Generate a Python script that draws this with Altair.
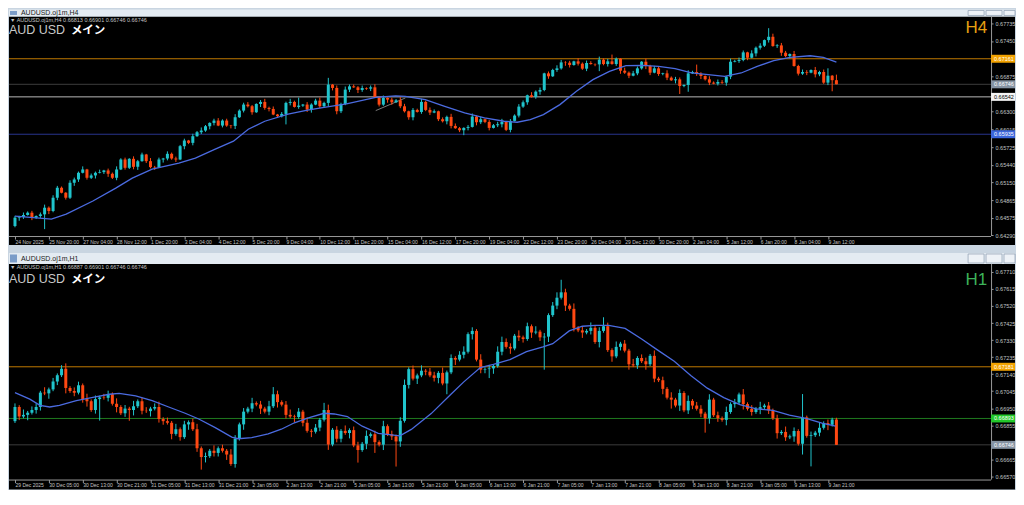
import json
import altair as alt
import pandas as pd

# ---------------- data ----------------
# H4 panel (top)
H4_FIRST_OPEN = 0.64444
H4_CLOSE = [
    0.64580, 0.64590, 0.64623, 0.64661, 0.64580, 0.64607, 0.64634, 0.64742, 0.64688, 0.64904,
    0.65066, 0.64985, 0.64904, 0.65147, 0.65201, 0.65309, 0.65363, 0.65228, 0.65266, 0.65309,
    0.65320, 0.65347, 0.65293, 0.65228, 0.65363, 0.65525, 0.65390, 0.65536, 0.65406, 0.65498,
    0.65606, 0.65498, 0.65401, 0.65395, 0.65525, 0.65541, 0.65617, 0.65541, 0.65525, 0.65741,
    0.65833, 0.65795, 0.65903, 0.65968, 0.65995, 0.66065, 0.66119, 0.66157, 0.66076, 0.66157,
    0.66076, 0.66070, 0.66211, 0.66319, 0.66417, 0.66390, 0.66292, 0.66427, 0.66460, 0.66363,
    0.66346, 0.66255, 0.66228, 0.66265, 0.66444, 0.66460, 0.66379, 0.66400, 0.66417, 0.66336,
    0.66417, 0.66481, 0.66390, 0.66444, 0.66741, 0.66687, 0.66309, 0.66427, 0.66660, 0.66713,
    0.66697, 0.66654, 0.66686, 0.66676, 0.66697, 0.66535, 0.66416, 0.66524, 0.66497, 0.66454,
    0.66486, 0.66389, 0.66308, 0.66211, 0.66330, 0.66297, 0.66460, 0.66330, 0.66287, 0.66308,
    0.66179, 0.66146, 0.66217, 0.66070, 0.66033, 0.66000, 0.66038, 0.66054, 0.66222, 0.66130,
    0.66179, 0.66135, 0.66038, 0.66081, 0.66097, 0.66135, 0.66006, 0.66152, 0.66238, 0.66384,
    0.66454, 0.66568, 0.66541, 0.66627, 0.66654, 0.66924, 0.66876, 0.66978, 0.67005, 0.67102,
    0.67097, 0.67059, 0.67119, 0.67081, 0.67000, 0.67092, 0.67075, 0.67070, 0.67146, 0.67075,
    0.67119, 0.67075, 0.67162, 0.66967, 0.66935, 0.66886, 0.66924, 0.67005, 0.67113, 0.67043,
    0.66935, 0.67005, 0.66913, 0.66924, 0.66854, 0.66811, 0.66827, 0.66719, 0.66735, 0.66924,
    0.66946, 0.66913, 0.66881, 0.66827, 0.66773, 0.66757, 0.66784, 0.66773, 0.66870, 0.67113,
    0.67124, 0.67140, 0.67265, 0.67178, 0.67248, 0.67340, 0.67373, 0.67464, 0.67518, 0.67367,
    0.67378, 0.67259, 0.67205, 0.67238, 0.67043, 0.66919, 0.66946, 0.66935, 0.66978, 0.66908,
    0.66946, 0.66773, 0.66886, 0.66813, 0.66746,
]
# wick lengths in pips (one digit per bar) plus the long ones
H4_UPPER_WICK = ("32423135243214325132" "41325231423152314232" "31425213423152342135"
                 "24132523142352314253" "32413524132541325243" "13254213524132451324"
                 "31524132542315243152" "43215243152431524315" "24315243152431524135"
                 "243152431524315")
H4_LOWER_WICK = ("25314231524132541325" "13524132451324153241" "52413254132451324153"
                 "41325413245132541324" "15324132541324513241" "32541324153241352413"
                 "24135241325413241352" "41352413254132415324" "13524132541324153241"
                 "352413241532413")
H4_LONG_UPPER = {67: 13, 74: 11, 141: 11, 161: 12, 178: 14, 192: 12, 194: 9}
H4_LONG_LOWER = {7: 24, 64: 17, 76: 5, 106: 8, 138: 11, 157: 13, 159: 11, 193: 18, 194: 0}
H4_MA_IDX = [0, 8.6, 12.1, 18.4, 23.8, 27.7, 32.4, 38.7, 42.6, 47.3,
             51.6, 55.1, 59, 64.5, 69.1, 73, 78.3, 85.2, 89.9, 92.2,
             96.9, 101.5, 106.2, 110.9, 115.5, 118.6, 121.7, 124.8, 128.7, 132.6,
             136.5, 140.4, 144.3, 148.2, 152, 155.9, 159.8, 163.7, 167.6, 171.5,
             175.3, 179.2, 183.1, 187.8, 190.9, 194]
H4_MA_VAL = [0.64606, 0.64558, 0.64639, 0.64850, 0.65060, 0.65222, 0.65368, 0.65466, 0.65547, 0.65693,
             0.65822, 0.66017, 0.66146, 0.66260, 0.66325, 0.66373, 0.66430, 0.66535, 0.66557, 0.66551,
             0.66497, 0.66389, 0.66281, 0.66200, 0.66146, 0.66130, 0.66173, 0.66254, 0.66416, 0.66632,
             0.66822, 0.66957, 0.67048, 0.67054, 0.67038, 0.67000, 0.66930, 0.66903, 0.66876, 0.66930,
             0.67038, 0.67129, 0.67183, 0.67210, 0.67183, 0.67108]
H4_TREND_IDX = [85.2, 92.2]
H4_TREND_PRICE = [0.66319, 0.66524]
H4_LEVELS = [0.67161, 0.66746, 0.66542, 0.65935]
H4_PRICE_TICKS = [0.67735, 0.67450, 0.66875, 0.66300, 0.66015, 0.65725, 0.65440,
                  0.65150, 0.64865, 0.64575, 0.64290]
H4_TIME_LABELS = ["24 Nov 2025", "25 Nov 20:00", "27 Nov 04:00", "28 Nov 12:00", "1 Dec 20:00",
                  "3 Dec 04:00", "4 Dec 12:00", "5 Dec 20:00", "9 Dec 04:00", "10 Dec 12:00",
                  "11 Dec 20:00", "15 Dec 04:00", "16 Dec 12:00", "17 Dec 20:00", "19 Dec 04:00",
                  "22 Dec 12:00", "23 Dec 20:00", "26 Dec 04:00", "29 Dec 12:00", "30 Dec 20:00",
                  "2 Jan 04:00", "5 Jan 12:00", "6 Jan 20:00", "8 Jan 04:00", "9 Jan 12:00"]

# H1 panel (bottom)
H1_FIRST_OPEN = 0.66878
H1_CLOSE = [
    0.66957, 0.66904, 0.66913, 0.66925, 0.66940, 0.66957, 0.67037, 0.67033, 0.67055, 0.67099,
    0.67134, 0.67170, 0.67063, 0.67046, 0.67037, 0.67078, 0.67001, 0.66989, 0.66940, 0.67001,
    0.67010, 0.67008, 0.67028, 0.66975, 0.66957, 0.66922, 0.66948, 0.66940, 0.66961, 0.66989,
    0.66936, 0.66934, 0.66948, 0.66957, 0.66890, 0.66878, 0.66869, 0.66807, 0.66833, 0.66789,
    0.66860, 0.66872, 0.66833, 0.66727, 0.66678, 0.66683, 0.66713, 0.66701, 0.66727, 0.66713,
    0.66692, 0.66639, 0.66780, 0.66860, 0.66931, 0.66948, 0.66978, 0.66971, 0.66948, 0.66931,
    0.66961, 0.67028, 0.66984, 0.66970, 0.66913, 0.66904, 0.66901, 0.66931, 0.66869, 0.66824,
    0.66819, 0.66842, 0.66886, 0.66940, 0.66748, 0.66830, 0.66780, 0.66824, 0.66812,
    0.66828, 0.66743, 0.66717, 0.66752, 0.66796, 0.66805, 0.66761, 0.66747, 0.66850, 0.66805, 0.66793,
    0.66765, 0.66880, 0.67080, 0.67168, 0.67115, 0.67133, 0.67159, 0.67154, 0.67133, 0.67119,
    0.67147, 0.67088, 0.67150, 0.67230, 0.67221, 0.67248, 0.67265, 0.67363, 0.67381, 0.67221,
    0.67165, 0.67168, 0.67172, 0.67186, 0.67265, 0.67319, 0.67292, 0.67283, 0.67354, 0.67345,
    0.67336, 0.67407, 0.67372, 0.67377, 0.67345, 0.67349, 0.67469, 0.67522, 0.67566, 0.67596,
    0.67522, 0.67504, 0.67398, 0.67384, 0.67372, 0.67381, 0.67398, 0.67319, 0.67381, 0.67407,
    0.67274, 0.67239, 0.67292, 0.67310, 0.67271, 0.67195, 0.67189, 0.67230, 0.67212, 0.67195,
    0.67242, 0.67115, 0.67106, 0.67058, 0.67009, 0.66998, 0.66965, 0.67035, 0.66938, 0.66991,
    0.66965, 0.66947, 0.66920, 0.66894, 0.66998, 0.66911, 0.66894, 0.66885, 0.66929, 0.66973,
    0.66982, 0.67027, 0.66973, 0.66947, 0.66929, 0.66947, 0.66956, 0.66965, 0.66938, 0.66894,
    0.66811, 0.66818, 0.66788, 0.66793, 0.66823, 0.66752, 0.66899, 0.66796, 0.66800, 0.66814,
    0.66841, 0.66867, 0.66858, 0.66887, 0.66746,
]
H1_UPPER_WICK = ("21312213121231221312" "12213121312212312131" "21231213121321213121"
                 "31212312131212312131" "22131213121231213122" "13121231213121312213"
                 "12131212312131213121" "21312131221312131213" "12213121312131213121"
                 "213121312131213")
H1_LOWER_WICK = ("12131221312131212312" "21213121312131221312" "13121312213121312131"
                 "21312131213121312213" "12131213121312131212" "31213121312213121312"
                 "21312131213121312131" "13121312131213121312" "21213121312131213121"
                 "312131213121312")
H1_LONG_UPPER = {61: 4, 73: 4, 115: 3, 129: 7, 139: 5, 186: 13, 194: 1}
H1_LONG_LOWER = {20: 12, 27: 6, 44: 7, 81: 7, 85: 6, 90: 14, 102: 6, 112: 5, 125: 18,
                 155: 5, 163: 8, 186: 6, 188: 17, 194: 0}
H1_MA_IDX = [0, 3.5, 5.9, 8.2, 10.5, 14.5, 18.4, 22.3, 24.6, 28.5,
             32.4, 36.3, 40.2, 43.4, 47.3, 51.2, 52.7, 55.9, 59.8, 62.9,
             66, 69.1, 73, 75.4, 78.5, 82, 85.8, 90.9, 93.6, 98.3,
             102.9, 106, 109.9, 113, 116.9, 120.8, 124.7, 127, 130.9, 134,
             137.1, 140.2, 144.1, 148, 151.8, 155.7, 159.6, 163.5, 167.4, 171.2,
             175.1, 179, 182.9, 186.8, 190.6, 193.8]
H1_MA_VAL = [0.67037, 0.67001, 0.66966, 0.66957, 0.66966, 0.66993, 0.67010, 0.67028, 0.67033, 0.67019,
             0.66993, 0.66957, 0.66922, 0.66890, 0.66842, 0.66789, 0.66780, 0.66786, 0.66807, 0.66833,
             0.66869, 0.66895, 0.66922, 0.66918, 0.66904, 0.66850, 0.66810, 0.66796, 0.66832, 0.66920,
             0.67027, 0.67097, 0.67177, 0.67195, 0.67221, 0.67265, 0.67292, 0.67310, 0.67381, 0.67407,
             0.67412, 0.67412, 0.67395, 0.67336, 0.67274, 0.67212, 0.67133, 0.67062, 0.67009, 0.66970,
             0.66947, 0.66938, 0.66911, 0.66894, 0.66867, 0.66850]
H1_LEVELS = [0.67181, 0.66893, 0.66746]
H1_PRICE_TICKS = [0.67710, 0.67615, 0.67520, 0.67425, 0.67330, 0.67235, 0.67140,
                  0.67045, 0.66950, 0.66855, 0.66760, 0.66665, 0.66570]
H1_TIME_LABELS = ["29 Dec 2025", "30 Dec 05:00", "30 Dec 13:00", "30 Dec 21:00", "31 Dec 05:00",
                  "31 Dec 13:00", "31 Dec 21:00", "2 Jan 05:00", "2 Jan 13:00", "2 Jan 21:00",
                  "5 Jan 05:00", "5 Jan 13:00", "5 Jan 21:00", "6 Jan 05:00", "6 Jan 13:00",
                  "6 Jan 21:00", "7 Jan 05:00", "7 Jan 13:00", "7 Jan 21:00", "8 Jan 05:00",
                  "8 Jan 13:00", "8 Jan 21:00", "9 Jan 05:00", "9 Jan 13:00", "9 Jan 21:00"]

# ---------------- styling ----------------
FONT = "Liberation Sans"
JP_FONT = "Noto Sans CJK JP"
UP = "#20c4cc"
DOWN = "#ff4812"
MA_COLOR = "#4b6be0"
AXIS_COLOR = "#9a9a9a"
LABEL_COLOR = "#c4c4c4"
GAP_COLOR = "#c9d5e1"
BAR_COLOR = "#e4ebf2"
W = 1008
PLOT_R = 984
X_DOMAIN = [-0.2334, 235.0]

ONE = pd.DataFrame({"k": [0]})


def candles(first_open, closes, uw, lw, long_u, long_l):
    rows = []
    prev = first_open
    for i, c in enumerate(closes):
        o = prev
        u = long_u.get(i, int(uw[i]))
        d = long_l.get(i, int(lw[i]))
        rows.append(dict(i=i, o=o, c=c,
                         h=max(o, c) + u * 0.0001,
                         l=min(o, c) - d * 0.0001,
                         col=UP if c >= o else DOWN))
        prev = c
    return pd.DataFrame(rows)


def rect(x, x2, y, y2, color, stroke=None):
    kw = dict(color=color)
    if stroke:
        kw.update(stroke=stroke, strokeWidth=0.7)
    return alt.Chart(ONE).mark_rect(**kw).encode(
        x=alt.value(x), x2=alt.value(x2), y=alt.value(y), y2=alt.value(y2))


def text(t, x, y, size, color, align="left", weight="normal", font=FONT):
    return alt.Chart(pd.DataFrame({"t": [t]})).mark_text(
        align=align, baseline="alphabetic", fontSize=size, color=color,
        fontWeight=weight, font=font).encode(x=alt.value(x), y=alt.value(y), text="t:N")


def panel(df, ma_idx, ma_val, levels, line_cols, box_cols, txt_cols, ydom, height, axis_y,
          price_ticks, time_labels, tf, tf_color, tf_base, aud_base, header, win_title, tb_h,
          trend=None):
    X = alt.Scale(domain=X_DOMAIN, nice=False, zero=False)
    Y = alt.Scale(domain=ydom, nice=False, zero=False)
    xaxis = alt.Axis(values=list(range(0, 193, 8)),
                     labelExpr="' ' + " + json.dumps(time_labels) + "[round(datum.value / 8)]",
                     orient="bottom", offset=axis_y - height, title=None, domain=False, grid=False,
                     tickSize=3, tickColor=AXIS_COLOR, labelAlign="left", labelBaseline="top",
                     labelPadding=0, labelFontSize=5, labelColor=LABEL_COLOR,
                     labelFont=FONT, labelOverlap=False, labelFlush=False, labelBound=False, zindex=0)
    yaxis = alt.Axis(values=price_ticks, format=".5f", orient="right", offset=PLOT_R - W,
                     title=None, domain=False, grid=False, tickSize=2, tickColor=AXIS_COLOR,
                     labelPadding=2, labelFontSize=5.5, labelColor=LABEL_COLOR, labelFont=FONT,
                     labelBaseline="middle", labelOverlap=False, labelFlush=False,
                     labelBound=False, zindex=0)

    def XF(f):
        return alt.X(f, type="quantitative", scale=X, axis=xaxis)

    def YF(f):
        return alt.Y(f, type="quantitative", scale=Y, axis=yaxis)

    lv = pd.DataFrame({"p": levels, "lc": line_cols, "bc": box_cols, "tc": txt_cols,
                       "t": [f"{v:.5f}" for v in levels]})
    ma = pd.DataFrame({"i": ma_idx, "v": ma_val})

    layers = []
    layers.append(rect(0, W, -tb_h, 0, BAR_COLOR))
    layers.append(rect(1, 8, -tb_h + 1.5, -1.5, "#7b9cc8"))
    layers.append(text(win_title, 12, -1.6 if tb_h < 9 else -3, 7, "#222222"))
    for bx, bx2 in [(961, 977), (979, 995), (997, 1008)]:
        layers.append(rect(bx, bx2, -tb_h + 1, -1, "#eef2f7", "#8c9bb0"))

    layers.append(alt.Chart(lv).mark_rule(strokeWidth=1).encode(
        y=YF("p"), x=alt.value(0), x2=alt.value(PLOT_R), color=alt.Color("lc:N", scale=None)))
    if trend is not None:
        tr = pd.DataFrame({"i": trend[0], "v": trend[1]})
        layers.append(alt.Chart(tr).mark_line(color="#7a7a7a", strokeWidth=1).encode(
            x=XF("i"), y=YF("v")))
    layers.append(alt.Chart(df).mark_rule(strokeWidth=1).encode(
        x=XF("i"), y=YF("l"), y2="h:Q", color=alt.Color("col:N", scale=None)))
    layers.append(alt.Chart(df).mark_bar(size=3).encode(
        x=XF("i"), y=YF("o"), y2="c:Q", color=alt.Color("col:N", scale=None)))
    layers.append(alt.Chart(ma).mark_line(color=MA_COLOR, strokeWidth=1.3).encode(
        x=XF("i"), y=YF("v")))
    layers.append(alt.Chart(ONE).mark_rule(color=AXIS_COLOR, strokeWidth=1).encode(
        x=alt.value(PLOT_R + 0.5), y=alt.value(0), y2=alt.value(axis_y)))
    layers.append(alt.Chart(ONE).mark_rule(color=AXIS_COLOR, strokeWidth=1).encode(
        x=alt.value(0), x2=alt.value(PLOT_R), y=alt.value(axis_y + 0.5)))
    layers.append(alt.Chart(lv).mark_tick(orient="horizontal", thickness=8, size=24, opacity=1).encode(
        y=YF("p"), x=alt.value(PLOT_R + 12), color=alt.Color("bc:N", scale=None)))
    layers.append(alt.Chart(lv).mark_text(align="left", baseline="middle", fontSize=5.5, font=FONT).encode(
        y=YF("p"), x=alt.value(PLOT_R + 3), text="t:N", color=alt.Color("tc:N", scale=None)))

    layers.append(text(header, 1, 5.5, 5.5, LABEL_COLOR))
    layers.append(text("AUD USD", 0, aud_base, 12.5, "#c8c8c8"))
    layers.append(text("メイン", 62, aud_base, 11.5, "#ffffff", weight="bold", font=JP_FONT))
    layers.append(text(tf, 980, tf_base, 17, tf_color, align="right"))

    return alt.layer(*layers).properties(width=W, height=height)


h4 = candles(H4_FIRST_OPEN, H4_CLOSE, H4_UPPER_WICK, H4_LOWER_WICK, H4_LONG_UPPER, H4_LONG_LOWER)
h1 = candles(H1_FIRST_OPEN, H1_CLOSE, H1_UPPER_WICK, H1_LOWER_WICK, H1_LONG_UPPER, H1_LONG_LOWER)

top = panel(h4, H4_MA_IDX, H4_MA_VAL, H4_LEVELS,
            ["#c07800", "#3c3c3c", "#b8b8b8", "#28348e"],
            ["#f2a200", "#8593a3", "#f4f4f4", "#3b66dc"],
            ["#ffffff", "#ffffff", "#000000", "#ffffff"],
            [0.64136, 0.67848], 229, 220, H4_PRICE_TICKS, H4_TIME_LABELS,
            "H4", "#e8a012", 17, 18,
            "▼ AUDUSD.oj1m,H4  0.66813 0.66901 0.66746 0.66746", "AUDUSD.oj1m,H4", 7,
            trend=(H4_TREND_IDX, H4_TREND_PRICE))

bottom = panel(h1, H1_MA_IDX, H1_MA_VAL, H1_LEVELS,
               ["#c07800", "#1f7a1f", "#3c3c3c"],
               ["#f2a200", "#22c82a", "#8593a3"],
               ["#ffffff", "#ffffff", "#ffffff"],
               [0.66497, 0.67754], 226, 216, H1_PRICE_TICKS, H1_TIME_LABELS,
               "H1", "#3db35a", 21, 19,
               "▼ AUDUSD.oj1m,H1  0.66887 0.66901 0.66746 0.66746", "AUDUSD.oj1m,H1", 11)

chart = alt.vconcat(top, bottom, spacing=8).properties(padding=0).configure(
    background=GAP_COLOR).configure_view(fill="#000000", stroke=None)

chart.save("out.html", embed_options={"renderer": "svg", "actions": False})
